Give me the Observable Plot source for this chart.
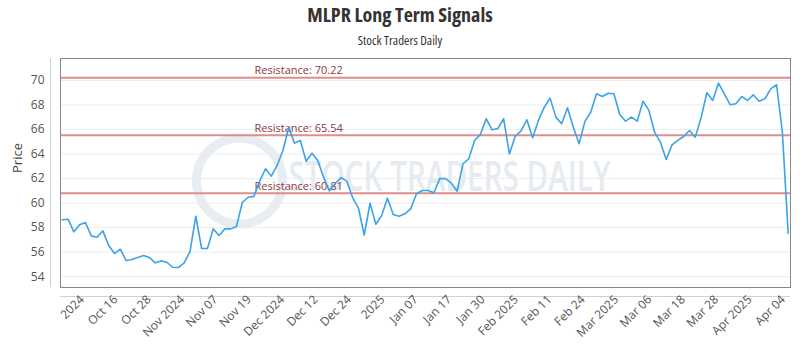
<!DOCTYPE html>
<html><head><meta charset="utf-8">
<script src="https://cdn.jsdelivr.net/npm/d3@7"></script>
<script src="https://cdn.jsdelivr.net/npm/@observablehq/plot@0.6"></script>
<style>
body{margin:0;background:#fff;width:800px;height:350px;overflow:hidden;font-family:"Open Sans",sans-serif}
#title{position:absolute;left:0;top:2px;width:800px;text-align:center;font-size:20px;font-weight:700;color:#333;font-stretch:87.5%;line-height:26px}
#sub{position:absolute;left:0;top:31px;width:800px;text-align:center;font-size:13px;color:#333;font-stretch:87.5%;line-height:18px}
#chart{position:absolute;left:0;top:50px}
</style></head><body>
<div id="title">MLPR Long Term Signals</div>
<div id="sub">Stock Traders Daily</div>
<div id="chart"></div>
<script>
const prices = [
58.64,58.69,57.66,58.23,58.42,57.33,57.22,57.74,56.54,55.89,
56.24,55.32,55.40,55.57,55.73,55.57,55.13,55.29,55.18,54.77,
54.75,55.13,56.05,58.93,56.30,56.30,57.90,57.36,57.90,57.90,
58.09,60.05,60.48,60.55,61.79,62.80,62.20,63.07,64.29,66.19,
64.89,65.11,63.42,64.07,63.47,62.11,61.00,61.60,62.08,61.79,
60.45,59.60,57.40,59.99,58.28,58.99,60.40,59.07,58.93,59.13,
59.53,60.76,61.03,61.03,60.84,62.00,62.00,61.62,60.97,63.21,
63.61,65.11,65.60,66.88,65.98,66.08,66.88,64.00,65.45,65.89,
66.79,65.33,66.74,67.82,68.56,67.01,66.47,67.77,66.19,64.84,
66.66,67.41,68.91,68.69,68.96,68.91,67.23,66.68,67.01,66.68,
68.31,67.58,65.78,64.97,63.56,64.75,65.11,65.43,65.92,65.38,
66.96,69.00,68.37,69.78,68.91,68.02,68.10,68.69,68.37,68.83,
68.31,68.51,69.32,69.65,65.78,57.55
];
const resistanceLevels = [70.22, 65.54, 60.81];
const yTicks = [54, 56, 58, 60, 62, 64, 66, 68, 70];
const tickLabels = ["2024","Oct 16","Oct 28","Nov 2024","Nov 07","Nov 19","Dec 2024","Dec 12","Dec 24","2025","Jan 07","Jan 17","Jan 30","Feb 2025","Feb 11","Feb 24","Mar 2025","Mar 06","Mar 18","Mar 28","Apr 2025","Apr 04"];
const watermark = "STOCK TRADERS DAILY";

const n = prices.length;
const data = prices.map((p, i) => ({i, p}));
const xDomain = [-0.3, n - 1 + 0.4];
const yDomain = [53.12, 71.79];
// labels are evenly spaced along the trading-day index
const first = 4.3, last = n - 1;
const tickPos = tickLabels.map((_, k) => first + k * (last - first) / (tickLabels.length - 1));
const labelOf = new Map(tickPos.map((t, k) => [t, tickLabels[k]]));

const chart = Plot.plot({
  width: 800, height: 300,
  marginTop: 8, marginBottom: 63, marginLeft: 60, marginRight: 10,
  style: {fontFamily: "'Open Sans', sans-serif", background: "#fff"},
  x: {domain: xDomain, axis: null},
  y: {domain: yDomain, axis: null},
  marks: [
    Plot.gridY(yTicks, {stroke: "#ececec", strokeOpacity: 1}),
    Plot.dot([0], {frameAnchor: "middle", dx: -186, dy: 8, r: 43, stroke: "#e8edf2", strokeWidth: 9, fill: "none"}),
    Plot.text([watermark], {frameAnchor: "middle", dx: 24, dy: 5, fontSize: 42, fill: "#e6ebf0", fontWeight: 600, text: d => d}),
    Plot.ruleY(resistanceLevels, {stroke: "#e08c8c", strokeWidth: 2}),
    Plot.text(resistanceLevels, {y: d => d, frameAnchor: "left", dx: 194, dy: -7, textAnchor: "start", text: d => `Resistance: ${d.toFixed(2)}`, fill: "#8b3a3a", fontSize: 11}),
    Plot.line(data, {x: "i", y: "p", stroke: "#3aa3ea", strokeWidth: 1.6}),
    Plot.frame({stroke: "#888"}),
    Plot.ruleY([yDomain[0]], {dy: 9, stroke: "#d0d0d0"}),
    Plot.ruleX([xDomain[0]], {dx: -10, stroke: "#d0d0d0"}),
    Plot.axisY(yTicks, {tickSize: 0, tickPadding: 16, fontSize: 12, fill: "#555", label: null}),
    Plot.axisX(tickPos, {tickSize: 0, tickPadding: 10, dx: -5, tickRotate: -45, fontSize: 12, fill: "#555", label: null, tickFormat: d => labelOf.get(d)}),
    Plot.text(["Price"], {frameAnchor: "left", dx: -43, rotate: -90, fontSize: 13, fill: "#444", text: d => d})
  ]
});
document.getElementById("chart").appendChild(chart);
d3.select(chart).selectAll("text").filter(function() { return this.textContent === watermark; })
  .attr("textLength", 322).attr("lengthAdjust", "spacingAndGlyphs");
</script>
</body></html>
